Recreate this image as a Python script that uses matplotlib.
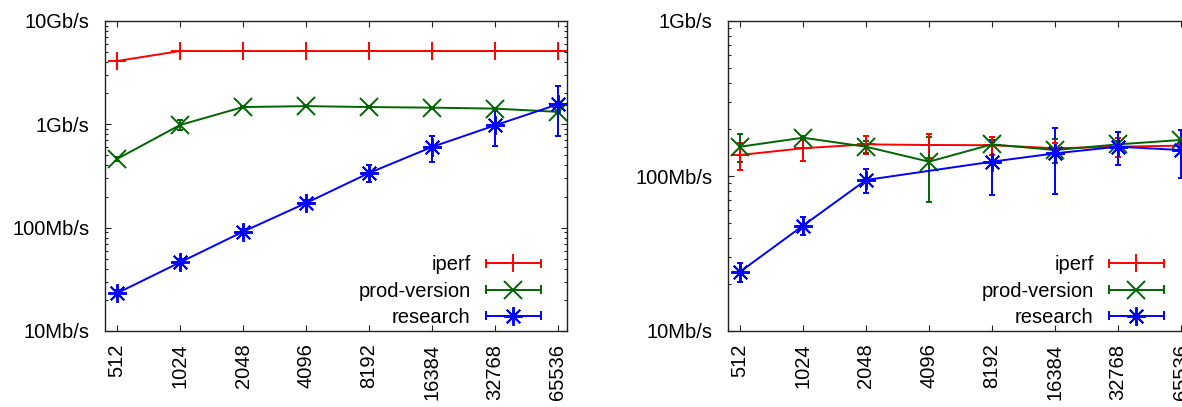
import matplotlib
matplotlib.use("Agg")
import matplotlib.pyplot as plt
from matplotlib.lines import Line2D
from matplotlib.legend_handler import HandlerBase
from matplotlib.ticker import FixedLocator, LogLocator, NullFormatter
import numpy as np

plt.rcParams['font.family'] = ['Liberation Sans', 'DejaVu Sans']

# Message sizes (bytes) on the x axis
sizes = ["512", "1024", "2048", "4096", "8192", "16384", "32768", "65536"]

# Throughput in Mb/s, left panel
left_iperf = [4100, 5120, 5120, 5120, 5120, 5120, 5120, 5120]
left_iperf_err = [40, 40, 40, 40, 40, 40, 40, 40]
left_prod = [462, 985, 1470, 1500, 1470, 1450, 1420, 1320]
left_prod_err = [20, 110, 40, 30, 30, 30, 30, 30]
left_research = [23.2, 46.2, 91.4, 173, 338, 604, 977, 1563]
left_research_err = [1.5, 3, 6, 12, 62, 170, 360, 800]

# Throughput in Mb/s, right panel
right_iperf = [136.6, 151, 160, 158.5, 158, 151, 154.5, 157]
right_iperf_err = [27, 26, 22, 27, 21, 13, 22, 5]
right_prod = [154.5, 176.6, 154.5, 123.7, 160, 147, 160, 170.8]
right_prod_err = [32, 5, 14, 56, 5, 25, 8, 5]
right_research_sizes = ["512", "1024", "2048", "8192", "16384", "32768", "65536"]
right_research = [24.1, 47.8, 94.2, 123.7, 140, 154.5, 147]
right_research_err = [3.3, 6.4, 17, 48, 64, 37, 50]

series_names = ["iperf", "prod-version", "research"]
colors = ["#ff0000", "#006400", "#0000ff"]
markers = ["+", "x", (8, 2, 0)]
msizes = [13, 12.5, 13.5]

left_labels = ["10Mb/s", "100Mb/s", "1Gb/s", "10Gb/s"]
left_ticks = [10, 100, 1000, 10000]
right_labels = ["10Mb/s", "100Mb/s", "1Gb/s"]
right_ticks = [10, 100, 1000]

FS = 14.5


class CapLineHandler(HandlerBase):
    """Legend key: horizontal bar with end caps and the marker in the middle."""

    def __init__(self, color, marker, ms, **kw):
        super().__init__(**kw)
        self.color = color
        self.marker = marker
        self.ms = ms

    def create_artists(self, legend, orig_handle, xdescent, ydescent,
                       width, height, fontsize, trans):
        y = height / 2 - ydescent
        x0 = -xdescent
        x1 = -xdescent + width
        cap = 2.5
        arts = [
            Line2D([x0, x1], [y, y], color=self.color, lw=1.4),
            Line2D([x0, x0], [y - cap, y + cap], color=self.color, lw=1.4),
            Line2D([x1, x1], [y - cap, y + cap], color=self.color, lw=1.4),
            Line2D([(x0 + x1) / 2], [y], color=self.color, marker=self.marker,
                   ms=self.ms, mew=1.4, ls="none"),
        ]
        for a in arts:
            a.set_transform(trans)
        return arts


fig = plt.figure(figsize=(11.82, 4.07), dpi=100)
W, H = 1182.0, 407.0
ax_l = fig.add_axes([105 / W, (H - 331) / H, 462 / W, 310 / H])
ax_r = fig.add_axes([728 / W, (H - 331) / H, 462 / W, 310 / H])

xpos = {s: i for i, s in enumerate(sizes)}


def draw_panel(ax, data, ylim, yticks, ylabels):
    handles = []
    for (xs, vals, errs), name, c, m, ms in zip(data, series_names, colors,
                                                 markers, msizes):
        x = [xpos[s] for s in xs]
        ax.errorbar(x, vals, yerr=errs, color=c, lw=1.4, elinewidth=1.4,
                    capsize=2.5, capthick=1.4, marker=m, ms=ms, mew=1.4,
                    label=name, clip_on=False)
        handles.append(Line2D([], [], color=c, label=name))
    ax.set_yscale("log")
    ax.set_ylim(*ylim)
    ax.set_xlim(-12 / 63, 7 + 9 / 63)
    ax.set_xticks(range(len(sizes)))
    ax.set_xticklabels(sizes, rotation=90, fontsize=FS)
    ax.yaxis.set_major_locator(FixedLocator(yticks))
    ax.set_yticklabels(ylabels, fontsize=FS)
    ax.yaxis.set_minor_locator(LogLocator(base=10, subs=np.arange(2, 10)))
    ax.yaxis.set_minor_formatter(NullFormatter())
    ax.tick_params(axis="both", which="major", direction="in", length=4,
                   width=0.8, top=True, right=True, color="#222222")
    ax.tick_params(axis="y", which="minor", direction="in", length=2.5,
                   width=0.8, right=True, color="#222222")
    ax.tick_params(axis="x", pad=9)
    ax.tick_params(axis="y", pad=11)
    for sp in ax.spines.values():
        sp.set_linewidth(1.0)
        sp.set_color("#222222")
    hmap = {h: CapLineHandler(c, m, ms) for h, c, m, ms in
            zip(handles, colors, markers, msizes)}
    ax.legend(handles=handles, handler_map=hmap, loc="lower right",
              bbox_to_anchor=(1 - 26 / 462, 4 / 310), borderpad=0,
              borderaxespad=0, frameon=False, markerfirst=False,
              fontsize=FS, handlelength=2.75, handletextpad=0.75,
              labelspacing=0.36)


draw_panel(ax_l,
           [(sizes, left_iperf, left_iperf_err),
            (sizes, left_prod, left_prod_err),
            (sizes, left_research, left_research_err)],
           (10, 10000), left_ticks, left_labels)
draw_panel(ax_r,
           [(sizes, right_iperf, right_iperf_err),
            (sizes, right_prod, right_prod_err),
            (right_research_sizes, right_research, right_research_err)],
           (10, 1000), right_ticks, right_labels)

fig.savefig("out.png", dpi=100)
